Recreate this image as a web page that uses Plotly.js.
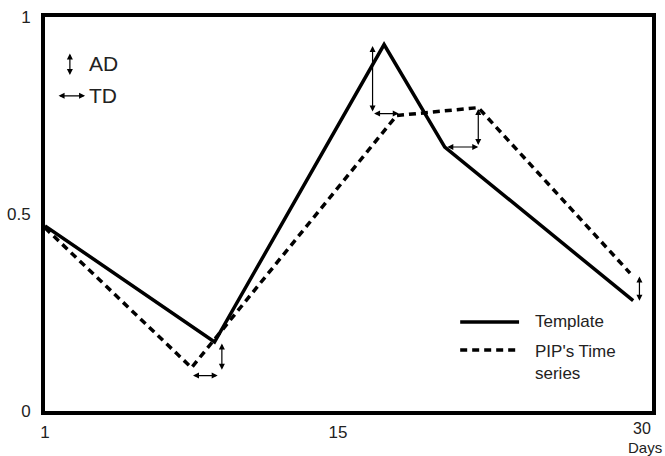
<!DOCTYPE html>
<html>
<head>
<meta charset="utf-8">
<script src="https://cdn.plot.ly/plotly-3.0.1.min.js"></script>
<style>html,body{margin:0;padding:0;background:#fff;}#chart{width:665px;height:456px;}</style>
</head>
<body>
<div id="chart"></div>
<script>
// Data
var templateX = [1, 9.1, 17.2, 20.1, 29.1];
var templateY = [0.47, 0.175, 0.93, 0.67, 0.28];
var pipX = [1, 8, 17.8, 21.7, 28.95];
var pipY = [0.465, 0.11, 0.75, 0.77, 0.35];
var xTickVals = [1, 15];
var xTickText = ['1', '15'];
var yTickVals = [0, 0.5, 1];
var yTickText = ['0', '0.5', '1'];
var seriesNames = ['Template', "PIP's Time<br>series"];

var FONT = 'Liberation Sans, Arial, sans-serif';

var traces = [
  {x: templateX, y: templateY, mode: 'lines', name: seriesNames[0],
   line: {color: '#000', width: 3.5}, showlegend: false, hoverinfo: 'skip'},
  {x: pipX, y: pipY, mode: 'lines', name: seriesNames[1],
   line: {color: '#000', width: 3.5, dash: '7px,5px'}, showlegend: false, hoverinfo: 'skip'}
];

function arrow(x0, y0, x1, y1) {
  return {x: x1, y: y1, ax: x0, ay: y0, xref: 'x', yref: 'y', axref: 'x', ayref: 'y',
    text: '', showarrow: true, arrowside: 'end+start', arrowhead: 2, startarrowhead: 2,
    arrowsize: 1, startarrowsize: 1, arrowwidth: 1.2, arrowcolor: '#000', standoff: 0, startstandoff: 0};
}

var ann = [];
// minimum pair (template idx1, pip idx1)
ann.push(arrow(templateX[1] + 0.35, templateY[1], templateX[1] + 0.35, pipY[1] - 0.005));
ann.push(arrow(pipX[1], pipY[1] - 0.02, templateX[1] + 0.15, pipY[1] - 0.02));
// peak pair (template idx2, pip idx2)
ann.push(arrow(templateX[2] - 0.55, templateY[2], templateX[2] - 0.55, pipY[2] + 0.01));
ann.push(arrow(templateX[2] - 0.55, pipY[2] + 0.005, pipX[2] + 0.1, pipY[2] + 0.005));
// knee pair (template idx3, pip idx3)
ann.push(arrow(templateX[3] + 0.05, templateY[3], pipX[3], templateY[3]));
ann.push(arrow(pipX[3], pipY[3], pipX[3], templateY[3] + 0.005));
// end pair
ann.push(arrow(templateX[4] + 0.3, pipY[4] - 0.005, templateX[4] + 0.3, templateY[4]));

// AD / TD key
ann.push({x: 0.041, y: 0.853, xref: 'paper', yref: 'paper', ax: 0, ay: -23, axref: 'pixel', ayref: 'pixel',
  text: '', showarrow: true, arrowside: 'end+start', arrowhead: 2, startarrowhead: 2, arrowsize: 1,
  startarrowsize: 1, arrowwidth: 1.2, arrowcolor: '#000', standoff: 0, startstandoff: 0});
ann.push({x: 0.066, y: 0.8, xref: 'paper', yref: 'paper', ax: -28, ay: 0, axref: 'pixel', ayref: 'pixel',
  text: '', showarrow: true, arrowside: 'end+start', arrowhead: 2, startarrowhead: 2, arrowsize: 1,
  startarrowsize: 1, arrowwidth: 1.2, arrowcolor: '#000', standoff: 0, startstandoff: 0});
ann.push({x: 0.069, y: 0.883, xref: 'paper', yref: 'paper', xanchor: 'left', yanchor: 'middle',
  text: 'AD', showarrow: false, font: {family: FONT, size: 21, color: '#222'}});
ann.push({x: 0.069, y: 0.8, xref: 'paper', yref: 'paper', xanchor: 'left', yanchor: 'middle',
  text: 'TD', showarrow: false, font: {family: FONT, size: 21, color: '#222'}});

// series key
ann.push({x: 0.804, y: 0.226, xref: 'paper', yref: 'paper', xanchor: 'left', yanchor: 'middle',
  text: seriesNames[0], showarrow: false, font: {family: FONT, size: 17, color: '#222'}});
ann.push({x: 0.804, y: 0.181, xref: 'paper', yref: 'paper', xanchor: 'left', yanchor: 'top', align: 'left',
  text: seriesNames[1], showarrow: false, font: {family: FONT, size: 17, color: '#222'}});

// x end label
ann.push({x: 30, y: 0, xref: 'x', yref: 'paper', xanchor: 'center', yanchor: 'middle', xshift: -10, yshift: -17,
  text: '30', showarrow: false, font: {family: FONT, size: 16, color: '#222'}});
ann.push({x: 30, y: 0, xref: 'x', yref: 'paper', xanchor: 'center', yanchor: 'middle', xshift: -7, yshift: -36,
  text: 'Days', showarrow: false, font: {family: FONT, size: 15, color: '#222'}});

var shapes = [
  {type: 'line', xref: 'paper', yref: 'paper', x0: 0.684, x1: 0.781, y0: 0.226, y1: 0.226,
   line: {color: '#000', width: 3.5}},
  {type: 'line', xref: 'paper', yref: 'paper', x0: 0.684, x1: 0.781, y0: 0.155, y1: 0.155,
   line: {color: '#000', width: 3.5, dash: '7px,5px'}}
];

var layout = {
  width: 665, height: 456,
  margin: {l: 45, r: 13, t: 17, b: 45},
  paper_bgcolor: '#fff', plot_bgcolor: '#fff',
  showlegend: false,
  font: {family: FONT, size: 17, color: '#222'},
  xaxis: {range: [1, 30], showgrid: false, zeroline: false, showline: true, mirror: true,
    linewidth: 4, linecolor: '#000', tickmode: 'array', tickvals: xTickVals, ticktext: xTickText,
    ticks: '', ticklabelstandoff: 3, tickfont: {family: FONT, size: 17, color: '#222'}},
  yaxis: {range: [0, 1], showgrid: false, zeroline: false, showline: true, mirror: true,
    linewidth: 4, linecolor: '#000', tickmode: 'array', tickvals: yTickVals, ticktext: yTickText,
    ticks: '', ticklabelstandoff: 7, tickfont: {family: FONT, size: 17, color: '#222'}},
  annotations: ann,
  shapes: shapes
};

Plotly.newPlot('chart', traces, layout, {displayModeBar: false, staticPlot: true});
</script>
</body>
</html>
